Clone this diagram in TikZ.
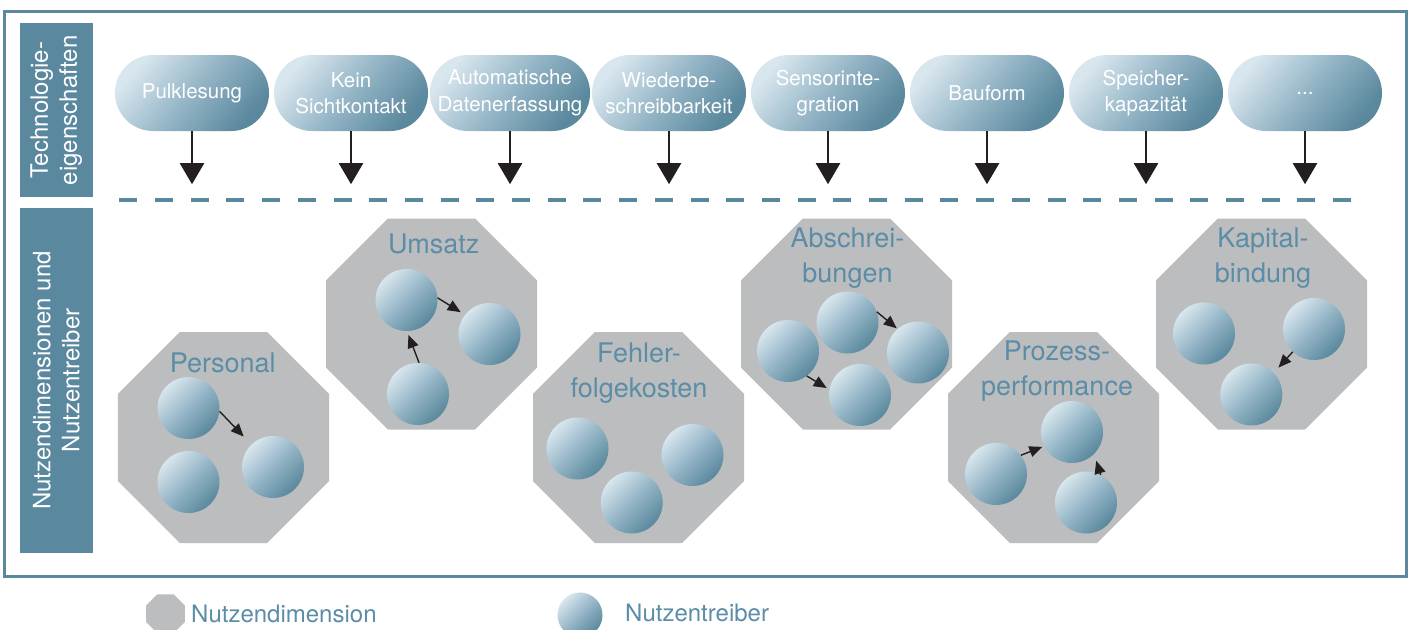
\documentclass[tikz,border=0pt]{standalone}
\usepackage{fontspec}
\setmainfont{TeX Gyre Heros}
\usetikzlibrary{shapes.geometric,shapes.misc,arrows.meta}
\definecolor{frameblue}{HTML}{5A889E}
\definecolor{labelblue}{HTML}{5B8DA6}
\definecolor{octgray}{HTML}{BCBDBF}
\definecolor{shlight}{HTML}{D8E6EE}
\definecolor{shmid}{HTML}{94B5C6}
\definecolor{shdark}{HTML}{5A889D}
\definecolor{arrowblack}{HTML}{231F20}
\begin{document}
\begin{tikzpicture}[x=1pt,y=-1pt,
  sidebox/.style={rectangle,fill=frameblue,text=white,inner sep=0pt,align=center,
    font=\fontsize{24}{29}\selectfont},
  pill/.style={rounded rectangle,minimum width=154pt,minimum height=76pt,inner sep=0pt,
    top color=shlight,bottom color=shdark,middle color=shmid,shading angle=50,text=white,align=center,
    font=\fontsize{20.5}{26.5}\selectfont},
  bigarr/.style={draw=arrowblack,line width=2.2pt,-{Triangle[width=24pt,length=21pt]}},
  smallarr/.style={draw=arrowblack,line width=1.4pt,-{Triangle[width=11pt,length=13pt]}},
  oct/.style={regular polygon,regular polygon sides=8,minimum size=228.4pt,inner sep=0pt,fill=octgray},
  drv/.style={circle,minimum size=62pt,inner sep=0pt,top color=shlight,bottom color=shdark,middle color=shmid,shading angle=45},
  octlabel/.style={text=labelblue,inner sep=0pt,align=center,font=\fontsize{27}{35}\selectfont},
  legtext/.style={text=labelblue,inner sep=0pt,font=\fontsize{24}{28}\selectfont}
]
\useasboundingbox (0,0) rectangle (1413,629);
\fill[white] (0,0) rectangle (1413,629);
\draw[frameblue,line width=3pt] (4.5,11.5) rectangle (1406.5,576);

% side boxes
\node[sidebox,rotate=90,minimum width=173.7pt,minimum height=72.7pt] (sb1) at (56.3,110.2) {Technologie-\\eigenschaften};
\node[sidebox,rotate=90,minimum width=344.7pt,minimum height=72.7pt] (sb2) at (56.3,380.4) {Nutzendimensionen und\\Nutzentreiber};

% technology pills
\foreach \i/\x/\t in {1/192/Pulklesung,2/351/{Kein\\Sichtkontakt},3/510/{Automatische\\Datenerfassung},
  4/669/{Wiederbe-\\schreibbarkeit},5/828/{Sensorinte-\\gration},6/987/Bauform,
  7/1146/{Speicher-\\kapazität},8/1305/{...}}{
  \node[pill] (t\i) at (\x,93) {\t};
  \draw[bigarr] (t\i.south) -- ++(0,53);
}

% dashed separator
\coordinate (dl) at (119.3,200.3);
\coordinate (dr) at (1353,200.3);
\draw[frameblue,line width=4pt,dash pattern=on 18pt off 17.7pt] (dl) -- (dr);

% octagons
\node[oct] (o1) at (223.5,437.5) {};
\node[oct] (o2) at (431.5,324) {};
\node[oct] (o3) at (638.5,437.5) {};
\node[oct] (o4) at (846.5,324) {};
\node[oct] (o5) at (1053.5,437.5) {};
\node[oct] (o6) at (1261.5,324) {};

% labels
\node[octlabel,anchor=base] (l1) at (222.8,372.3) {Personal};
\node[octlabel,anchor=base] (l2) at (433.7,253.3) {Umsatz};
\node[octlabel,anchor=north] (l3) at (639,342.2) {Fehler-\\folgekosten};
\node[octlabel,anchor=north] (l4) at (847.5,227.5) {Abschrei-\\bungen};
\node[octlabel,anchor=north] (l5) at (1057,340.5) {Prozess-\\performance};
\node[octlabel,anchor=north] (l6) at (1263,227.2) {Kapital-\\bindung};

% Personal
\node[drv] (p1) at (188.5,408) {};
\node[drv] (p2) at (273,467) {};
\node[drv] (p3) at (188.5,482) {};
\draw[smallarr,shorten >=11pt] (p1.-6) -- (p2.134);

% Umsatz
\node[drv] (u1) at (406.5,300) {};
\node[drv] (u2) at (489.5,334) {};
\node[drv] (u3) at (418,394) {};
\draw[smallarr,shorten >=5pt] (u1.4) -- (u2.142);
\draw[smallarr,shorten >=4pt] (u3.88) -- (u1.-89);

% Fehlerfolgekosten
\node[drv] (f1) at (577.5,448.5) {};
\node[drv] (f2) at (692.5,455) {};
\node[drv] (f3) at (631.7,502.5) {};

% Abschreibungen
\node[drv] (a1) at (847.5,322.5) {};
\node[drv] (a2) at (788,351) {};
\node[drv] (a3) at (918,352.5) {};
\node[drv] (a4) at (860,395) {};
\draw[smallarr,shorten >=1pt] (a1.20) -- (a3.131);
\draw[smallarr,shorten >=3pt] (a2.-53) -- (a4.170);

% Prozessperformance
\node[drv] (q1) at (1072,432) {};
\node[drv] (q2) at (996,474) {};
\node[drv] (q3) at (1086,502.5) {};
\draw[smallarr,shorten >=2pt] (q2.37) -- (q1.207);
\draw[smallarr,shorten >=7pt] (q3.62) -- (q1.-45);

% Kapitalbindung
\node[drv] (k1) at (1204,333.5) {};
\node[drv] (k2) at (1314,329) {};
\node[drv] (k3) at (1251.3,394.5) {};
\draw[smallarr,shorten >=7pt] (k2.227) -- (k3.44);

% legend
\node[oct,minimum size=42.2pt] (lo) at (165.5,613.8) {};
\node[legtext,anchor=base west] (lt1) at (191,622.3) {Nutzendimension};
\node[drv,minimum size=45pt] (lc) at (580,615) {};
\node[legtext,anchor=base west] (lt2) at (625,621.5) {Nutzentreiber};
\end{tikzpicture}
\end{document}
